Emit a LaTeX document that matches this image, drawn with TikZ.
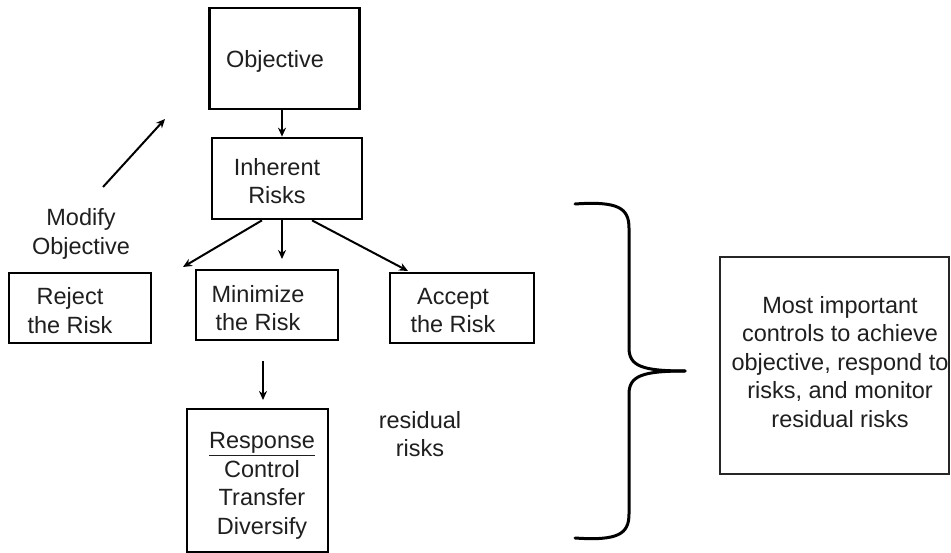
\documentclass[tikz,border=0pt]{standalone}
\usepackage{fontspec}
\setmainfont{Liberation Sans}
\usetikzlibrary{arrows.meta}
\begin{document}
\begin{tikzpicture}[x=1pt,y=-1pt,
  box/.style={draw=black,line width=2.7pt,rectangle,inner sep=0pt},
  thinbox/.style={draw=black!85,line width=1.4pt,rectangle,inner sep=0pt},
  txt/.style={align=center,inner sep=0pt,text=black!88,font=\fontsize{23.5}{28.5}\selectfont},
  arr/.style={line width=2pt,-{Stealth[length=9pt,width=8pt]}},
  bracepath/.style={line width=3pt,line cap=round}]
\fill[white] (0,0) rectangle (951,553);
\useasboundingbox (0,0) rectangle (951,553);
% boxes
\node[box,minimum width=150pt,minimum height=101pt] (obj) at (284.5,58.5) {};
\node[txt] (objt) at (275,61) {Objective};
\node[box,minimum width=150pt,minimum height=81pt] (inh) at (287,178.5) {};
\node[txt] (inht) at (277,181) {Inherent\\Risks};
\node[box,minimum width=142pt,minimum height=70pt] (rej) at (80,308) {};
\node[txt] (rejt) at (70,310.5) {Reject\\the Risk};
\node[box,minimum width=142pt,minimum height=70pt] (min) at (267,305) {};
\node[txt] (mint) at (258,308) {Minimize\\the Risk};
\node[box,minimum width=144pt,minimum height=70pt] (acc) at (462,308) {};
\node[txt] (acct) at (453,310.5) {Accept\\the Risk};
\node[box,minimum width=141pt,minimum height=143pt] (resp) at (257.5,480.5) {};
\node[txt] (respt) at (262,486) {\underline{Response}\\Control\\Transfer\\Diversify};
\node[thinbox,minimum width=229pt,minimum height=217pt] (most) at (834.5,365.5) {};
\node[txt] (mostt) at (840,362) {Most important\\controls to achieve\\objective, respond to\\risks, and monitor\\residual risks};
\node[txt] (mod) at (81,234) {Modify\\Objective};
\node[txt] (resid) at (420,434) {residual\\risks};
% connectors
\draw[arr] (obj.south -| 282,0) -- (inh.north -| 282,0);
\coordinate (modA) at (103,187);
\coordinate (modB) at (165,119);
\draw[arr] (modA) -- (modB);
\coordinate (lend) at (183,267);
\coordinate (mend) at (282,259);
\coordinate (rend) at (408,271);
\draw[arr] (inh.south -| 262,0) -- (lend);
\draw[arr] (inh.south -| 282,0) -- (mend);
\draw[arr] (inh.south -| 312,0) -- (rend);
\coordinate (rs) at (263,361);
\coordinate (re) at (263,400);
\draw[arr] (rs) -- (re);
% brace
\coordinate (tip) at (685,371);
\draw[bracepath] (575,204) .. controls (618,201) and (629,208) .. (629,228) -- (629,348) .. controls (629,366) and (642,371) .. (tip);
\draw[bracepath] (575,538) .. controls (618,541) and (629,534) .. (629,514) -- (629,394) .. controls (629,376) and (642,371) .. (tip);
\end{tikzpicture}
\end{document}
